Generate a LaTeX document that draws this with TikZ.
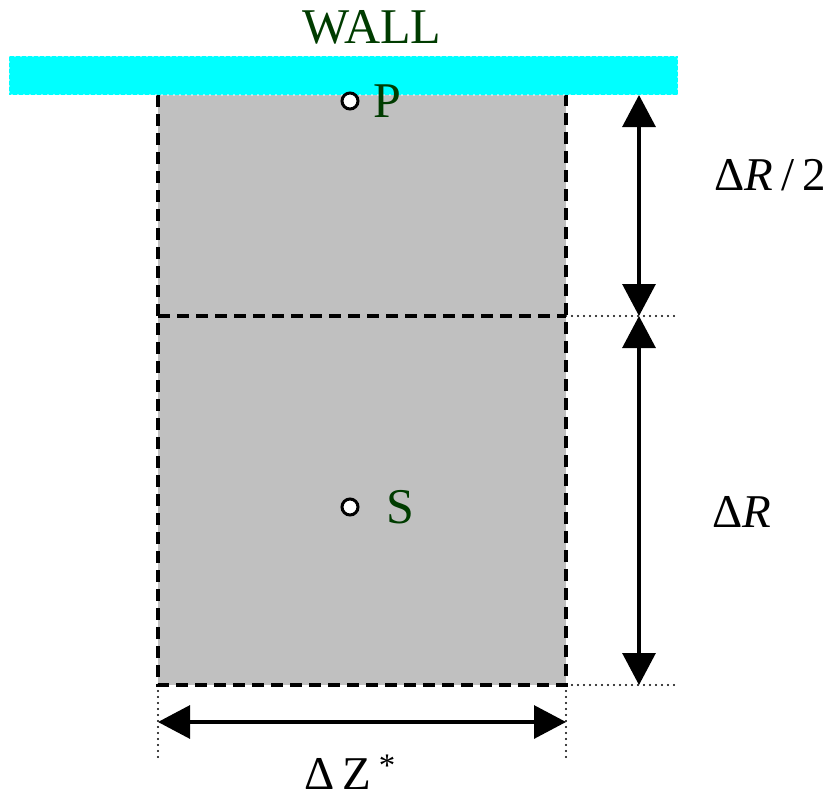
\documentclass[tikz,border=0pt]{standalone}
\usepackage{fontspec}
\setmainfont{Liberation Serif}
\usetikzlibrary{arrows.meta}
\definecolor{wallcyan}{RGB}{0,255,255}
\definecolor{txtgreen}{RGB}{0,60,0}
\definecolor{cellgray}{RGB}{192,192,192}
\tikzset{
  dimline/.style={line width=3.2pt,{Triangle[width=33pt,length=32pt]}-{Triangle[width=33pt,length=32pt]}},
  celledge/.style={line width=3.2pt,dash pattern=on 12pt off 7pt},
  guide/.style={line width=2.4pt,line cap=round,dash pattern=on 0pt off 6pt},
  pointmark/.style={circle,draw=black,fill=white,line width=3pt,minimum size=16pt,inner sep=0pt},
  greenlbl/.style={text=txtgreen,font=\fontsize{50}{50}\selectfont,inner sep=0pt},
  dimlbl/.style={font=\fontsize{47}{47}\selectfont,inner sep=0pt}
}
\begin{document}
\begin{tikzpicture}[x=1pt,y=-1pt]
\useasboundingbox (0,0) rectangle (833,803);
% cell
\fill[cellgray] (158,95) rectangle (566,685);
\draw[celledge] (158,95) -- (158,685) -- (566,685) -- (566,95);
\draw[celledge] (158,316) -- (566,316);
% wall
\fill[wallcyan] (9,56) rectangle (678,95);
\draw[white,guide,line width=1.8pt] (9,56) rectangle (678,95);
\node[greenlbl] (wall) at (372,27) {WALL};
% points
\node[pointmark] (p) at (350,101) {};
\node[greenlbl,anchor=west] (plbl) at (373,101) {P};
\node[pointmark] (s) at (350,507) {};
\node[greenlbl,anchor=west] (slbl) at (386,507) {S};
% guides
\coordinate (wallR) at (639,95);
\coordinate (midR) at (639,316);
\coordinate (botR) at (639,685);
\coordinate (midE) at (675,316);
\coordinate (botE) at (675,685);
\coordinate (midS) at (566,316);
\coordinate (botS) at (566,685);
\coordinate (blS) at (158,685);
\coordinate (blE) at (158,757);
\coordinate (brE) at (566,757);
\coordinate (dzL) at (158,722);
\coordinate (dzR) at (566,722);
\draw[guide] (midS) -- (midE);
\draw[guide] (botS) -- (botE);
\draw[guide] (blS) -- (blE);
\draw[guide] (botS) -- (brE);
% dimension arrows
\draw[dimline] (wallR) -- (midR);
\draw[dimline] (midR) -- (botR);
\draw[dimline] (dzL) -- (dzR);
% labels
\node[dimlbl] (dr2) at (770,175) {Δ\textit{R}\,/\,2};
\node[dimlbl] (dr) at (742,512) {Δ\textit{R}};
\node[dimlbl] (dz) at (350,772) {Δ\,Z\,\raisebox{4pt}{\textsuperscript{*}}};
\end{tikzpicture}
\end{document}
